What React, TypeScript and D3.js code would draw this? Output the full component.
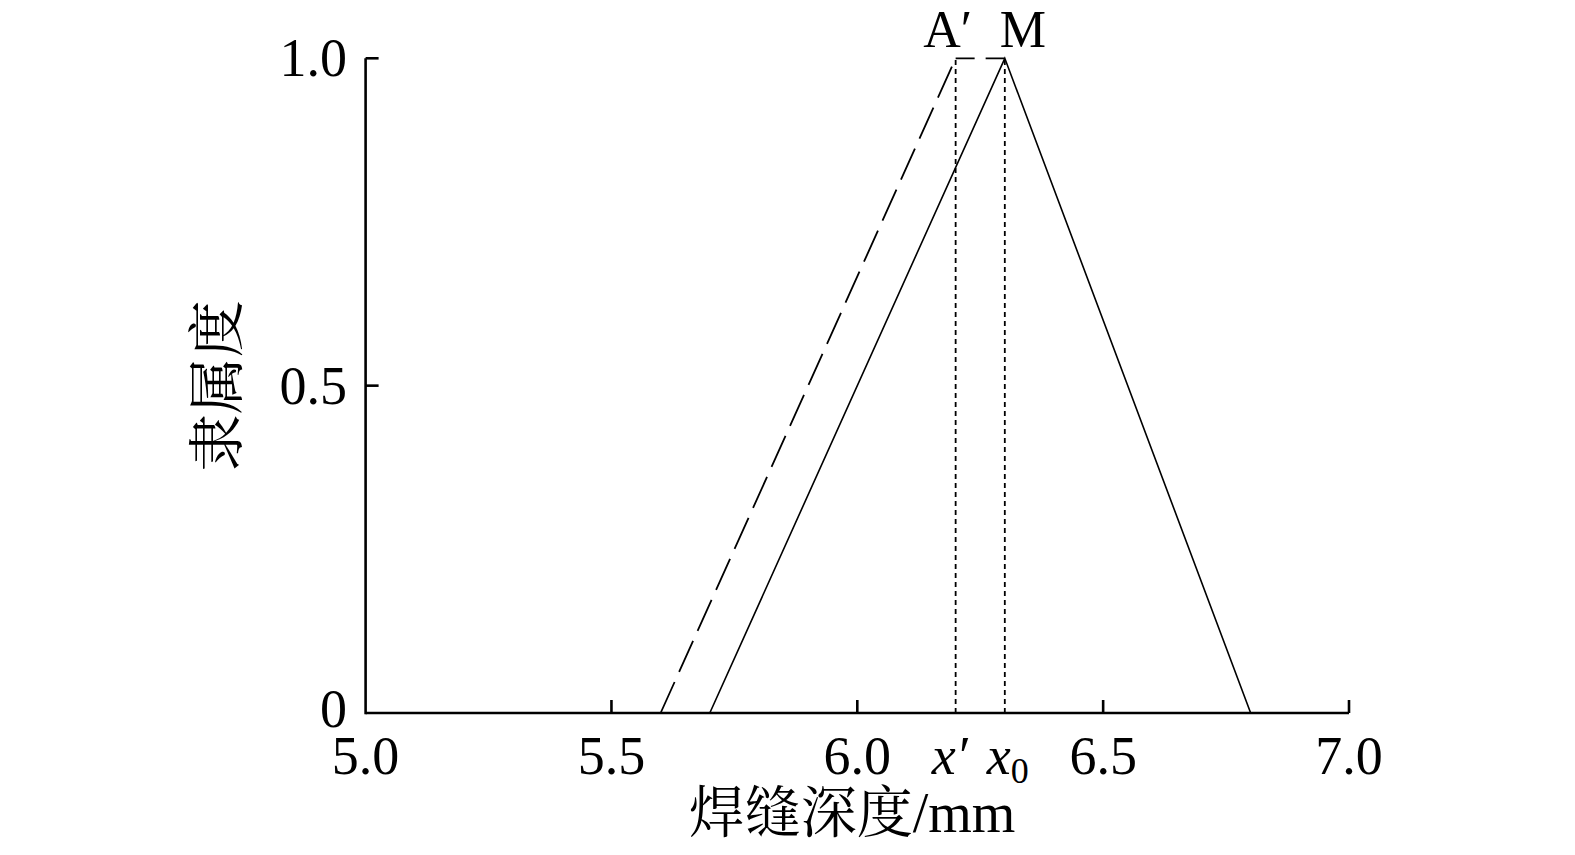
import React from "react";
import * as d3 from "d3";

const xTicks = [5.0, 5.5, 6.0, 6.5, 7.0];
const yTicks = [0, 0.5, 1.0];
const yTickLabels = ["0", "0.5", "1.0"];
const solidX = [5.7, 6.3, 6.8];
const solidY = [0, 1, 0];
const dashedX = [5.6, 6.2, 6.3];
const dashedY = [0, 1, 1];
const xPrime = 6.2;
const x0Val = 6.3;

const W = 1575;
const H = 855;
const serif = "'Liberation Serif', 'Times New Roman', serif";
const cjk = "'Liberation Serif', 'Noto Serif CJK SC', 'Noto Sans CJK SC', serif";

export default function App() {
  const x = d3.scaleLinear().domain([5, 7]).range([365.6, 1349]);
  const y = d3.scaleLinear().domain([0, 1]).range([713, 58.3]);
  const line = d3
    .line<[number, number]>()
    .x((d) => x(d[0]))
    .y((d) => y(d[1]));
  const solidPts = solidX.map((v, i) => [v, solidY[i]] as [number, number]);
  const dashedPts = dashedX.map((v, i) => [v, dashedY[i]] as [number, number]);
  const dashedSegs = dashedPts.slice(1).map((p, i) => [dashedPts[i], p]);
  const fs = 54;
  return (
    <svg
      width={W}
      height={H}
      style={{ position: "absolute", left: 0, top: 0, background: "#fff" }}
    >
      <path d={line(solidPts) || ""} fill="none" stroke="#000" strokeWidth={1.6} />
      {dashedSegs.map((seg, i) => (
        <path
          key={i}
          d={line(seg as [number, number][]) || ""}
          fill="none"
          stroke="#000"
          strokeWidth={1.8}
          strokeDasharray={i === 0 ? "34,11" : "19,11,30"}
        />
      ))}
      {[xPrime, x0Val].map((v, i) => (
        <line
          key={i}
          x1={x(v)}
          x2={x(v)}
          y1={y(0)}
          y2={y(1)}
          stroke="#000"
          strokeWidth={1.8}
          strokeDasharray="5,4"
        />
      ))}
      <line x1={x(5)} x2={x(7)} y1={y(0)} y2={y(0)} stroke="#000" strokeWidth={2.6} />
      <line x1={x(5)} x2={x(5)} y1={y(0) + 1.3} y2={y(1)} stroke="#000" strokeWidth={2.6} />
      {xTicks.map((t, i) => (
        <g key={i}>
          {i > 0 && (
            <line x1={x(t)} x2={x(t)} y1={y(0)} y2={y(0) - 13} stroke="#000" strokeWidth={2.6} />
          )}
          <text x={x(t)} y={774} textAnchor="middle" fontFamily={serif} fontSize={fs} fill="#000">
            {t.toFixed(1)}
          </text>
        </g>
      ))}
      {yTicks.map((t, i) => (
        <g key={i}>
          {i > 0 && (
            <line x1={x(5)} x2={x(5) + 13} y1={y(t)} y2={y(t)} stroke="#000" strokeWidth={2.6} />
          )}
          <text
            x={347}
            y={y(t) + (i === 0 ? 14 : 18)}
            textAnchor="end"
            fontFamily={serif}
            fontSize={fs}
            fill="#000"
          >
            {yTickLabels[i]}
          </text>
        </g>
      ))}
      <text x={x(xPrime) - 6} y={774} textAnchor="middle" fontFamily={serif} fontSize={fs} fontStyle="italic">
        x′
      </text>
      <text x={x(x0Val) + 3} y={774} textAnchor="middle" fontFamily={serif} fontSize={fs} fontStyle="italic">
        x
        <tspan fontStyle="normal" fontSize={36} dy={9}>0</tspan>
      </text>
      <text x={x(xPrime) - 8} y={47} textAnchor="middle" fontFamily={serif} fontSize={52}>
        A′
      </text>
      <text x={x(x0Val) + 18} y={47} textAnchor="middle" fontFamily={serif} fontSize={52}>
        M
      </text>
      <text x={852} y={832} textAnchor="middle" fontFamily={cjk} fontSize={56} fill="#000">
        焊缝深度/mm
      </text>
      <text
        transform={`translate(237, ${y(0.5)}) rotate(-90)`}
        textAnchor="middle"
        fontFamily={cjk}
        fontSize={57}
        fill="#000"
      >
        隶属度
      </text>
    </svg>
  );
}
